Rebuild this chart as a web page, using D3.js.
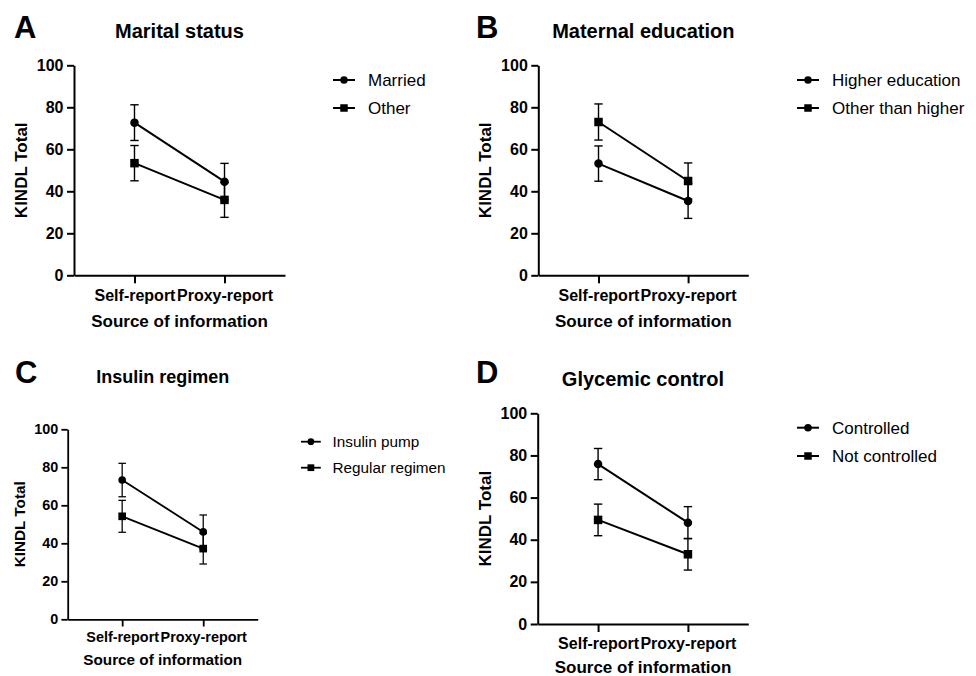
<!DOCTYPE html>
<html>
<head>
<meta charset="utf-8">
<script src="https://cdn.jsdelivr.net/npm/d3@7/dist/d3.min.js"></script>
<style>
  html, body { margin: 0; padding: 0; background: #fff; }
  svg { display: block; font-family: Arial, "Liberation Sans", sans-serif; }
</style>
</head>
<body>
<svg id="chart" width="976" height="676"></svg>
<script>
// ---------------- DATA ----------------
const sources = ["Self-report", "Proxy-report"];
const yTicks = [0, 20, 40, 60, 80, 100];
const panelLetters = ["A", "B", "C", "D"];
const panelTitles = ["Marital status", "Maternal education", "Insulin regimen", "Glycemic control"];
const xAxisTitle = "Source of information";
const yAxisTitle = "KINDL Total";

// series names per panel: [circle series, square series]
const seriesNames = [
  ["Married", "Other"],
  ["Higher education", "Other than higher"],
  ["Insulin pump", "Regular regimen"],
  ["Controlled", "Not controlled"]
];

// means [Self-report, Proxy-report] and SD
const maritalMarriedMean = [72.7, 44.6];
const maritalMarriedSD   = [8.5, 8.7];
const maritalOtherMean   = [53.4, 35.9];
const maritalOtherSD     = [8.4, 8.3];

const eduHigherMean = [53.2, 35.4];
const eduHigherSD   = [8.4, 8.3];
const eduOtherMean  = [73.0, 44.9];
const eduOtherSD    = [8.6, 8.6];

const insulinPumpMean    = [73.3, 46.0];
const insulinPumpSD      = [8.8, 8.9];
const insulinRegularMean = [54.2, 37.2];
const insulinRegularSD   = [8.4, 8.1];

const glyControlledMean    = [75.9, 48.1];
const glyControlledSD      = [7.4, 7.6];
const glyNotControlledMean = [49.4, 33.1];
const glyNotControlledSD   = [7.5, 7.5];

const panelData = [
  [[maritalMarriedMean, maritalMarriedSD], [maritalOtherMean, maritalOtherSD]],
  [[eduHigherMean, eduHigherSD], [eduOtherMean, eduOtherSD]],
  [[insulinPumpMean, insulinPumpSD], [insulinRegularMean, insulinRegularSD]],
  [[glyControlledMean, glyControlledSD], [glyNotControlledMean, glyNotControlledSD]]
];
const markerShapes = ["circle", "square"];

// ---------------- LAYOUT ----------------
const layout = [
  { ax: 74,    yTop: 65.3,  yBot: 275.3, w: 211,   s: 1,    letterX: 14,  letterY: 38,    titleY: 37.7,
    xTitleY: 326.7, legX: 333, legY: 80,    legDy: 28 },
  { ax: 538.3, yTop: 65.3,  yBot: 275.3, w: 210,   s: 1,    letterX: 476, letterY: 37.5,  titleY: 37.7,
    xTitleY: 326.7, legX: 797, legY: 80,    legDy: 28 },
  { ax: 67.7,  yTop: 429.3, yBot: 619.3, w: 190,   s: 0.9,  letterX: 15,  letterY: 382.7, titleY: 383.3,
    xTitleY: 665,   legX: 301, legY: 441.7, legDy: 26 },
  { ax: 537.7, yTop: 413.3, yBot: 624,   w: 210.6, s: 1,    letterX: 476, letterY: 383.3, titleY: 386,
    xTitleY: 673,   legX: 797, legY: 427.7, legDy: 28.3 }
];

const svg = d3.select("#chart");
svg.append("rect").attr("width", 976).attr("height", 676).attr("fill", "#fff");

function drawMarker(g, shape, cx, cy, size) {
  if (shape === "circle") {
    g.append("circle").attr("cx", cx).attr("cy", cy).attr("r", size / 2).attr("fill", "#000");
  } else {
    g.append("rect").attr("x", cx - size / 2).attr("y", cy - size / 2)
      .attr("width", size).attr("height", size).attr("fill", "#000");
  }
}

panelData.forEach((series, i) => {
  const L = layout[i];
  const s = L.s;
  const g = svg.append("g");

  const y = d3.scaleLinear().domain([0, 100]).range([L.yBot, L.yTop]);
  const x = d3.scalePoint().domain(sources).range([L.ax, L.ax + L.w]).padding(0.672);

  // panel letter
  g.append("text").attr("x", L.letterX).attr("y", L.letterY)
    .attr("font-size", 31).attr("font-weight", "bold").text(panelLetters[i]);

  // title
  g.append("text").attr("x", L.ax + L.w / 2).attr("y", L.titleY)
    .attr("text-anchor", "middle").attr("font-size", 20 * s).attr("font-weight", "bold")
    .text(panelTitles[i]);

  // Y axis
  const yAxis = g.append("g").attr("transform", `translate(${L.ax},0)`)
    .call(d3.axisLeft(y).tickValues(yTicks).tickSize(7 * s).tickSizeOuter(0).tickPadding(3.5 * s));
  yAxis.select(".domain").attr("stroke", "#000").attr("stroke-width", 2 * s);
  yAxis.selectAll(".tick line").attr("stroke", "#000").attr("stroke-width", 2 * s);
  yAxis.selectAll(".tick text").attr("font-size", 16 * s).attr("font-weight", "bold")
    .attr("font-family", "Arial, 'Liberation Sans', sans-serif").attr("fill", "#000");

  // X axis
  const xAxis = g.append("g").attr("transform", `translate(0,${L.yBot})`)
    .call(d3.axisBottom(x).tickSize(8 * s).tickSizeOuter(0).tickPadding(6 * s));
  xAxis.select(".domain").attr("stroke", "#000").attr("stroke-width", 2 * s);
  xAxis.selectAll(".tick line").attr("stroke", "#000").attr("stroke-width", 2 * s);
  xAxis.selectAll(".tick text").attr("font-size", 16 * s).attr("font-weight", "bold")
    .attr("font-family", "Arial, 'Liberation Sans', sans-serif").attr("fill", "#000");

  // axis titles
  g.append("text").attr("x", L.ax + L.w / 2).attr("y", L.xTitleY)
    .attr("text-anchor", "middle").attr("font-size", 17 * s).attr("font-weight", "bold")
    .text(xAxisTitle);
  const ylx = L.ax - 47 * s, yly = (L.yTop + L.yBot) / 2;
  g.append("text").attr("transform", `translate(${ylx},${yly}) rotate(-90)`)
    .attr("text-anchor", "middle").attr("font-size", 17 * s).attr("font-weight", "bold")
    .text(yAxisTitle);

  // series
  const line = d3.line().x(d => x(d.src)).y(d => y(d.mean));
  series.forEach(([means, sds], k) => {
    const pts = sources.map((src, j) => ({ src, mean: means[j], sd: sds[j] }));
    // error bars
    pts.forEach(p => {
      const cx = x(p.src);
      const eb = g.append("g").attr("stroke", "#000").attr("stroke-width", 1.4 * s);
      eb.append("line").attr("x1", cx).attr("x2", cx).attr("y1", y(p.mean - p.sd)).attr("y2", y(p.mean + p.sd));
      [p.mean - p.sd, p.mean + p.sd].forEach(v => {
        eb.append("line").attr("x1", cx - 4.2 * s).attr("x2", cx + 4.2 * s).attr("y1", y(v)).attr("y2", y(v));
      });
    });
    g.append("path").datum(pts).attr("d", line)
      .attr("fill", "none").attr("stroke", "#000").attr("stroke-width", 2 * s);
    pts.forEach(p => drawMarker(g, markerShapes[k], x(p.src), y(p.mean), 8.5 * s));
  });

  // legend
  seriesNames[i].forEach((name, k) => {
    const ly = L.legY + k * L.legDy;
    const lw = 22 * s;
    g.append("line").attr("x1", L.legX).attr("x2", L.legX + lw).attr("y1", ly).attr("y2", ly)
      .attr("stroke", "#000").attr("stroke-width", 2 * s);
    drawMarker(g, markerShapes[k], L.legX + lw / 2, ly, 7.5 * s);
    g.append("text").attr("x", L.legX + 35 * s).attr("y", ly).attr("dy", "0.36em")
      .attr("font-size", 17 * s).text(name);
  });
});
</script>
</body>
</html>
